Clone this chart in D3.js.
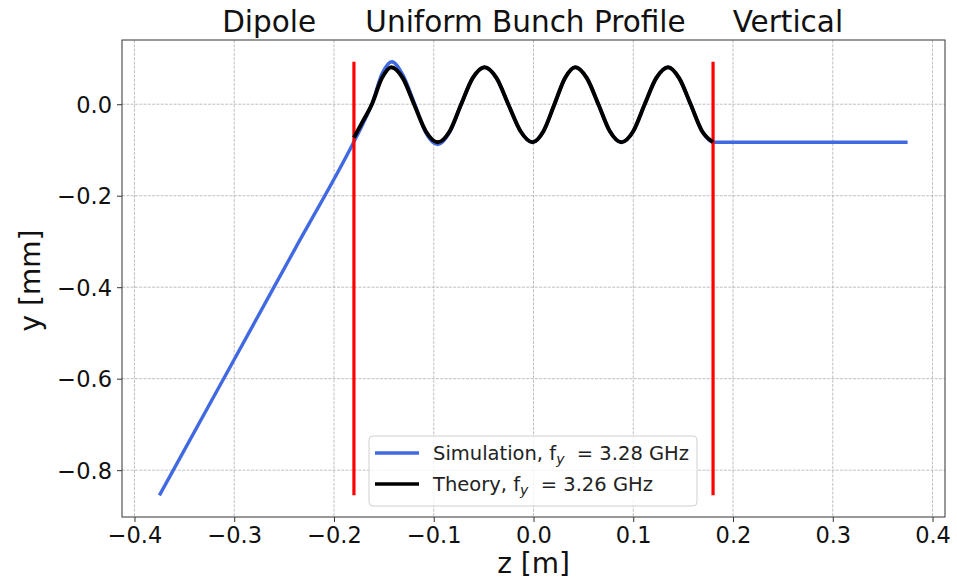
<!DOCTYPE html>
<html>
<head>
<meta charset="utf-8">
<script src="https://cdn.jsdelivr.net/npm/d3@7"></script>
<style>
  html, body { margin: 0; padding: 0; background: #fff; }
  svg { display: block; font-family: "DejaVu Sans", sans-serif; }
</style>
</head>
<body>
<svg id="chart" width="957" height="581"></svg>
<script>
// Theory: transverse offset along the bunch (z in m, y in mm)
const theoryZ = [-0.180, -0.171, -0.162, -0.152, -0.1425, -0.131, -0.1197, -0.108, -0.096,
  -0.084, -0.0725, -0.061, -0.049, -0.037, -0.0253, -0.013, -0.001, 0.010, 0.021,
  0.0315, 0.042, 0.0535, 0.065, 0.0765, 0.088, 0.100, 0.1115, 0.123, 0.135, 0.146,
  0.1575, 0.169, 0.180];
const theoryY = [-0.073, -0.037, 0.000, 0.057, 0.081, 0.057, 0.000, -0.059, -0.083,
  -0.059, 0.000, 0.057, 0.081, 0.057, 0.000, -0.059, -0.083, -0.059, 0.000,
  0.057, 0.081, 0.057, 0.000, -0.059, -0.083, -0.059, 0.000, 0.057, 0.081, 0.057,
  0.000, -0.059, -0.083];

// Simulation: dipole ramp, oscillation inside the bunch, flat tail
const simZ = [-0.375, -0.300, -0.240, -0.180, -0.171, -0.162, -0.152, -0.142, -0.131,
  -0.119, -0.108, -0.096, -0.084, -0.0725, -0.061, -0.049, -0.037, -0.0253, -0.013,
  -0.001, 0.010, 0.021, 0.0315, 0.042, 0.0535, 0.065, 0.0765, 0.088, 0.100, 0.1115,
  0.123, 0.135, 0.146, 0.1575, 0.169, 0.180, 0.250, 0.375];
const simY = [-0.855, -0.558, -0.320, -0.082, -0.043, 0.000, 0.066, 0.093, 0.064,
  0.000, -0.062, -0.088, -0.061, 0.000, 0.057, 0.081, 0.057, 0.000, -0.059,
  -0.083, -0.059, 0.000, 0.057, 0.081, 0.057, 0.000, -0.059, -0.083, -0.059, 0.000,
  0.057, 0.081, 0.057, 0.000, -0.059, -0.083, -0.083, -0.083];

// Bunch boundaries
const boundaryZ = [-0.18, 0.18];
const boundaryYMin = -0.855;
const boundaryYMax = 0.093;

const xTicks = [-0.4, -0.3, -0.2, -0.1, 0.0, 0.1, 0.2, 0.3, 0.4];
const yTicks = [0.0, -0.2, -0.4, -0.6, -0.8];

const regionLabels = ["Dipole", "Uniform Bunch Profile", "Vertical"];
const regionLabelZ = [-0.265, -0.008, 0.255];

const legendLabels = ["Simulation", "Theory"];
const legendFreq = ["3.28", "3.26"];

const W = 957, H = 581;
const plot = { left: 122, right: 945, top: 40, bottom: 517 };

const svg = d3.select("#chart");

const x = d3.scaleLinear().domain([-0.4125, 0.4125]).range([plot.left, plot.right]);
const y = d3.scaleLinear().domain([-0.9024, 0.1404]).range([plot.bottom, plot.top]);

const fmt = d => d3.format(".1f")(d).replace("-", "\u2212");

// grid
const grid = svg.append("g").attr("stroke", "#b0b0b0").attr("stroke-width", 0.8)
  .attr("stroke-dasharray", "3,1.3");
grid.selectAll("line.gx").data(xTicks).join("line")
  .attr("x1", d => x(d)).attr("x2", d => x(d))
  .attr("y1", plot.top).attr("y2", plot.bottom);
grid.selectAll("line.gy").data(yTicks).join("line")
  .attr("x1", plot.left).attr("x2", plot.right)
  .attr("y1", d => y(d)).attr("y2", d => y(d));

// axes
const xAxis = svg.append("g").attr("transform", `translate(0,${plot.bottom})`)
  .call(d3.axisBottom(x).tickValues(xTicks).tickFormat(fmt).tickSize(5).tickPadding(5));
const yAxis = svg.append("g").attr("transform", `translate(${plot.left},0)`)
  .call(d3.axisLeft(y).tickValues(yTicks).tickFormat(fmt).tickSize(5).tickPadding(5));
[xAxis, yAxis].forEach(g => {
  g.select(".domain").remove();
  g.selectAll(".tick line").attr("stroke", "#333").attr("stroke-width", 1);
  g.selectAll(".tick text").attr("fill", "#111").style("font-size", "22.5px")
    .style("font-family", "DejaVu Sans, sans-serif");
});
yAxis.selectAll(".tick text").attr("dy", "0.36em");

// data lines
const clip = svg.append("g");
const lineGen = d3.line().x(d => x(d[0])).y(d => y(d[1])).curve(d3.curveMonotoneX);
const simPts = simZ.map((z, i) => [z, simY[i]]);
const theoryPts = theoryZ.map((z, i) => [z, theoryY[i]]);

clip.append("path").datum(simPts).attr("d", lineGen)
  .attr("fill", "none").attr("stroke", "#4169e1").attr("stroke-width", 3.4)
  .attr("stroke-linejoin", "round");

clip.selectAll("line.bound").data(boundaryZ).join("line")
  .attr("x1", d => x(d)).attr("x2", d => x(d))
  .attr("y1", y(boundaryYMin)).attr("y2", y(boundaryYMax))
  .attr("stroke", "#ff0000").attr("stroke-width", 3.2);

clip.append("path").datum(theoryPts).attr("d", lineGen)
  .attr("fill", "none").attr("stroke", "#000").attr("stroke-width", 4)
  .attr("stroke-linejoin", "round");

// frame
svg.append("rect").attr("x", plot.left).attr("y", plot.top)
  .attr("width", plot.right - plot.left).attr("height", plot.bottom - plot.top)
  .attr("fill", "none").attr("stroke", "#333").attr("stroke-width", 1);

// region labels above the axes
svg.selectAll("text.region").data(regionLabels).join("text")
  .attr("x", (d, i) => x(regionLabelZ[i])).attr("y", 32)
  .attr("text-anchor", "middle").style("font-size", "29.5px").attr("fill", "#111")
  .text(d => d);

// axis titles
svg.append("text").attr("x", x(0)).attr("y", 573).attr("text-anchor", "middle")
  .style("font-size", "28px").attr("fill", "#111").text("z [m]");
svg.append("text").attr("transform", `translate(40,${(plot.top + plot.bottom) / 2 + 2}) rotate(-90)`)
  .attr("text-anchor", "middle").style("font-size", "28px").attr("fill", "#111").text("y [mm]");

// legend
const lg = svg.append("g").attr("transform", "translate(369,436)");
lg.append("rect").attr("width", 328).attr("height", 70).attr("rx", 4)
  .attr("fill", "rgba(255,255,255,0.8)").attr("stroke", "#d0d0d0").attr("stroke-width", 1);
const legendColors = ["#4169e1", "#000"];
legendLabels.forEach((lab, i) => {
  const ly = 17 + i * 31;
  lg.append("line").attr("x1", 6).attr("x2", 50).attr("y1", ly).attr("y2", ly)
    .attr("stroke", legendColors[i]).attr("stroke-width", 3.5);
  const t = lg.append("text").attr("x", 64).attr("y", ly + 7)
    .style("font-size", "19.5px").attr("fill", "#222");
  t.append("tspan").text(lab + ", f");
  t.append("tspan").attr("dy", 4).style("font-size", "14px").style("font-style", "italic").text("y");
  t.append("tspan").attr("dy", -4).text("\u00a0\u00a0= " + legendFreq[i] + " GHz");
});
</script>
</body>
</html>
